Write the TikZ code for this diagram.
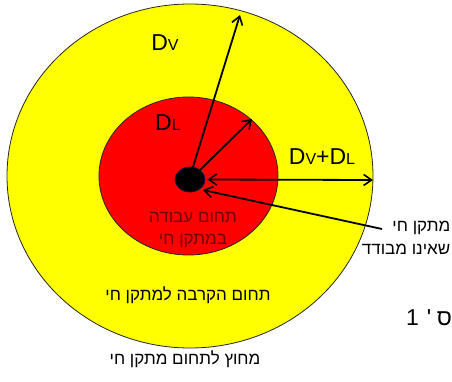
\documentclass[tikz,border=0pt]{standalone}
\usepackage{fontspec}
\setmainfont{Liberation Sans}
\newfontfamily\hebfont[Script=Hebrew]{Liberation Sans}
\TeXXeTstate=1
\usetikzlibrary{shapes.geometric,arrows.meta}
\definecolor{zoneyellow}{RGB}{255,255,0}
\definecolor{zonered}{RGB}{255,0,0}
\definecolor{darktext}{RGB}{110,0,0}
\definecolor{dotedge}{RGB}{20,20,70}
\tikzset{
  zone/.style={ellipse, draw=black!85, line width=0.8pt, inner sep=0pt},
  arr/.style={line width=1.8pt, -{Straight Barb[length=8pt,width=11pt,line width=1.6pt]}},
  dlab/.style={font=\fontsize{23}{26}\selectfont, inner sep=0pt},
  heb/.style={font=\hebfont\fontsize{17}{22}\selectfont, inner sep=0pt, align=center}
}
\newcommand{\sv}[1]{{\fontsize{16}{18}\selectfont #1}}
\begin{document}
\begin{tikzpicture}[x=1pt,y=1pt]
\useasboundingbox (0,0) rectangle (452,381);
\fill[white] (0,0) rectangle (452,381);
% zones
\node[zone, fill=zoneyellow, minimum width=366pt, minimum height=344pt] (outer) at (190,205) {};
\node[zone, fill=zonered, minimum width=179pt, minimum height=158pt] (inner) at (188.5,205) {};
\node[ellipse, fill=black, draw=dotedge, line width=0.8pt, minimum width=30pt, minimum height=25pt, inner sep=0pt] (dot) at (190,201.5) {};
% arrow end points
\coordinate (topend) at (240,366);
\coordinate (dlend) at (252,262);
\coordinate (rightend) at (373,201);
\coordinate (pstart) at (382,152);
% arrows
\draw[arr] (193,214) -- (topend);
\draw[arr] (200,211) -- (dlend);
\draw[arr, {Straight Barb[length=8pt,width=11pt,line width=1.6pt]}-{Straight Barb[length=8pt,width=11pt,line width=1.6pt]}] (dot.east) ++(2,0) -- (rightend);
\draw[arr] (pstart) -- (203,191);
% labels
\node[dlab] (dv) at (165,338) {D\sv{V}};
\node[dlab] (dl) at (168,258) {D\sv{L}};
\node[dlab] (dvdl) at (322,224) {D\sv{V}+D\sv{L}};
\node[heb, text=darktext] (work) at (193,151) {\beginR תחום עבודה\endR\\\beginR במתקן חי\endR};
\node[heb, anchor=east] (live1) at (450.5,153) {\beginR מתקן חי\endR};
\node[heb, anchor=east] (live2) at (450.5,132) {\beginR שאינו מבודד\endR};
\node[heb] (approach) at (188,86) {\beginR תחום הקרבה למתקן חי\endR};
\node[heb] (outside) at (185,22) {\beginR מחוץ לתחום מתקן חי\endR};
\node[font=\fontsize{23}{26}\selectfont, inner sep=0pt, anchor=base west] (fig) at (406,56) {\mbox{1}\hspace{8pt}\mbox{\textquotesingle}\hspace{5.5pt}\mbox{\hebfont ס}};
\end{tikzpicture}
\end{document}
